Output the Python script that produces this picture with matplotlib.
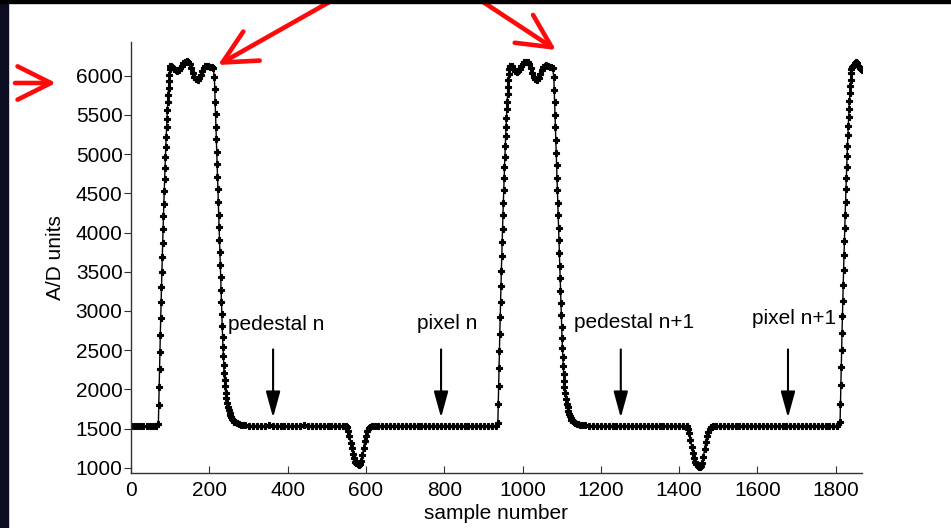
"""CCD readout waveform: A/D units vs sample number, with pedestal / pixel markers."""
import numpy as np
import matplotlib
matplotlib.use('Agg')
import matplotlib.pyplot as plt
from matplotlib.patches import Rectangle

plt.rcParams['font.family'] = ['Liberation Sans', 'DejaVu Sans']

# ---- trace, segment by segment (first sample, step, A/D values) ----
base_a = [1537, 1533, 1536, 1539, 1534, 1537, 1535, 1538, 1536]                 # 0..64 / 8
rise_a = [1560, 1800, 2030, 2260, 2480, 2700, 2910, 3110, 3310, 3500, 3690, 3870,
          4040, 4210, 4370, 4530, 4680, 4820, 4960, 5090, 5220, 5340, 5450, 5560,
          5660, 5760, 5850, 5930, 6010, 6080, 6120]                              # 70.. / 1
top_a = [6120, 6110, 6090, 6070, 6060, 6070, 6100, 6130, 6160, 6180, 6190, 6180,
         6150, 6100, 6040, 5990, 5960, 5950, 5970, 6010, 6060, 6100, 6120, 6130,
         6120, 6110, 6110, 6100]                                                 # 102.. / 4
fall_a = [5990, 5830, 5670, 5510, 5350, 5190, 5030, 4870, 4710, 4550, 4390, 4230,
          4070, 3910, 3750, 3590, 3430, 3270, 3110, 2960, 2810, 2670, 2540, 2420,
          2310, 2210, 2120, 2040]                                                # 213.. / 1
tail_a_x = [242, 244, 246, 248, 250, 252, 254, 256, 258, 261, 264, 267, 271, 275, 280, 285]
tail_a = [1960, 1890, 1830, 1780, 1735, 1700, 1670, 1645, 1625, 1605, 1590, 1578,
          1568, 1560, 1552, 1547]
base_b = [1542, 1539, 1537, 1538, 1535, 1537, 1540, 1536, 1538, 1537, 1535, 1539,
          1537, 1536, 1538, 1540, 1537, 1535, 1538, 1536, 1537, 1539, 1536, 1538,
          1537, 1535]                                                            # 292.. / 10
dip_a_x = [549, 552, 555, 558, 561, 564, 567, 570, 573, 576, 579, 582, 585, 588,
           591, 594, 597, 600, 603, 607, 611, 615]
dip_a = [1535, 1515, 1470, 1400, 1320, 1250, 1180, 1120, 1080, 1055, 1045, 1040,
         1050, 1085, 1160, 1250, 1340, 1410, 1465, 1505, 1525, 1533]
base_c = [1536, 1538, 1535, 1537, 1539, 1536, 1534, 1537, 1538, 1535, 1536, 1539,
          1537, 1535, 1538, 1536, 1537, 1539, 1535, 1536, 1538, 1537, 1535, 1538,
          1536, 1537, 1539, 1535, 1537, 1536, 1538, 1536]                        # 622.. / 10
rise_b = [1570, 1810, 2040, 2270, 2490, 2710, 2920, 3120, 3320, 3510, 3700, 3880,
          4050, 4220, 4380, 4540, 4690, 4830, 4970, 5100, 5230, 5350, 5460, 5570,
          5670, 5770, 5860, 5940, 6020, 6090, 6130]                              # 937.. / 1
top_b = [6130, 6120, 6090, 6060, 6050, 6060, 6090, 6120, 6150, 6170, 6180, 6175,
         6150, 6100, 6030, 5980, 5955, 5950, 5975, 6020, 6070, 6110, 6130, 6135,
         6125, 6115, 6110, 6100]                                                 # 969.. / 4
fall_b = [5980, 5820, 5660, 5500, 5340, 5180, 5020, 4860, 4700, 4540, 4380, 4220,
          4060, 3900, 3740, 3580, 3420, 3260, 3100, 2950, 2800, 2660, 2530, 2410,
          2300, 2200, 2110, 2030]                                                # 1080.. / 1
tail_b_x = [1109, 1111, 1113, 1115, 1117, 1119, 1121, 1123, 1125, 1128, 1131, 1134,
            1138, 1142, 1147, 1152]
tail_b = [1950, 1880, 1820, 1770, 1725, 1690, 1660, 1635, 1615, 1598, 1583, 1572,
          1562, 1555, 1548, 1544]
base_d = [1540, 1537, 1535, 1538, 1536, 1534, 1537, 1539, 1536, 1535, 1538, 1536,
          1537, 1535, 1539, 1536, 1534, 1537, 1536, 1538, 1535, 1537, 1536, 1534,
          1537, 1535]                                                            # 1160.. / 10
dip_b_x = [1420, 1423, 1426, 1429, 1432, 1435, 1438, 1441, 1444, 1447, 1450, 1453,
           1456, 1459, 1462, 1465, 1468, 1471, 1474, 1478, 1482, 1486]
dip_b = [1530, 1500, 1440, 1360, 1270, 1190, 1130, 1080, 1045, 1020, 1008, 1005,
         1020, 1060, 1140, 1240, 1330, 1410, 1460, 1500, 1520, 1530]
base_e = [1532, 1534, 1531, 1533, 1535, 1532, 1530, 1533, 1534, 1531, 1532, 1535,
          1533, 1531, 1534, 1532, 1533, 1535, 1531, 1532, 1534, 1533, 1531, 1534,
          1532, 1533, 1535, 1531, 1533, 1532, 1534, 1536]                        # 1494.. / 10
rise_c = [1580, 1820, 2050, 2280, 2500, 2720, 2930, 3130, 3330, 3520, 3710, 3890,
          4060, 4230, 4390, 4550, 4700, 4840, 4980, 5110, 5240, 5360, 5470, 5580,
          5680, 5780, 5870, 5950, 6030, 6090, 6110]                              # 1811.. / 1
top_c_x = [1843, 1846, 1849, 1852, 1855, 1858, 1861, 1864, 1866]
top_c = [6120, 6140, 6160, 6170, 6160, 6130, 6100, 6080, 6075]

# annotation arrows: (sample, label) and label anchor
markers = [(363, 'pedestal n'), (792, 'pixel n'), (1251, 'pedestal n+1'), (1678, 'pixel n+1')]
label_pos = [(248, 2830), (730, 2840), (1131, 2850), (1586, 2900)]


def seg(start, step, vals):
    return list(start + step * np.arange(len(vals))), list(vals)


parts = [seg(0, 8, base_a), seg(70, 1, rise_a), seg(102, 4, top_a), seg(213, 1, fall_a),
         (tail_a_x, tail_a), seg(292, 10, base_b), (dip_a_x, dip_a), seg(622, 10, base_c),
         seg(937, 1, rise_b), seg(969, 4, top_b), seg(1080, 1, fall_b), (tail_b_x, tail_b),
         seg(1160, 10, base_d), (dip_b_x, dip_b), seg(1494, 10, base_e), seg(1811, 1, rise_c),
         (top_c_x, top_c)]
sample = np.concatenate([p[0] for p in parts])
adc = np.concatenate([p[1] for p in parts])

fig = plt.figure(figsize=(9.51, 5.28), dpi=100, facecolor='white')
ax = fig.add_axes([0.1377, 0.1051, 0.7687, 0.8153])

ax.plot(sample, adc, color='black', lw=1, marker='P', ms=4.5, mew=0.8, mec='black')

ax.set_xlim(0, 1867)
ax.set_ylim(940, 6430)
ax.set_xticks(range(0, 1801, 200))
ax.set_yticks(range(1000, 6001, 500))
for s in ('top', 'right'):
    ax.spines[s].set_visible(False)
for s in ('left', 'bottom'):
    ax.spines[s].set_linewidth(1)
    ax.spines[s].set_color('#333333')
ax.tick_params(axis='x', direction='in', length=5, pad=6, labelsize=15, color='#333333')
ax.tick_params(axis='y', direction='out', length=5, pad=1, labelsize=15, color='#333333')
ax.set_xlabel('sample number', fontsize=15, labelpad=3)
ax.set_ylabel('A/D units', fontsize=15, labelpad=8)

arrow_style = dict(arrowstyle='-|>,head_length=0.8,head_width=0.22', color='black',
                   lw=1.5, mutation_scale=20, shrinkA=0, shrinkB=0)
for (xs, txt), (lx, ly) in zip(markers, label_pos):
    ax.annotate('', xy=(xs, 1640), xytext=(xs, 2510), arrowprops=arrow_style)
    ax.text(lx, ly, txt, fontsize=15, va='center', ha='left')

# red call-outs, in figure pixels
red = dict(arrowstyle='->,head_length=1.2,head_width=0.6', color='#ff0a0a', lw=3.3,
           mutation_scale=20, shrinkA=0, shrinkB=0)
for tail, tip in [((340, 532), (218, 463)), ((474, 532), (556, 478)), ((15, 445), (56, 445))]:
    ax.annotate('', xy=tip, xytext=tail, xycoords='figure pixels',
                textcoords='figure pixels', arrowprops=red, annotation_clip=False)

# dark frame edges
fig.add_artist(Rectangle((0, 0), 8 / 951, 1, transform=fig.transFigure,
                         color='#0d0d22', zorder=10))
fig.add_artist(Rectangle((0, 1 - 3 / 528), 1, 3 / 528, transform=fig.transFigure,
                         color='black', zorder=10))

fig.savefig('out.png', dpi=100, facecolor='white')
